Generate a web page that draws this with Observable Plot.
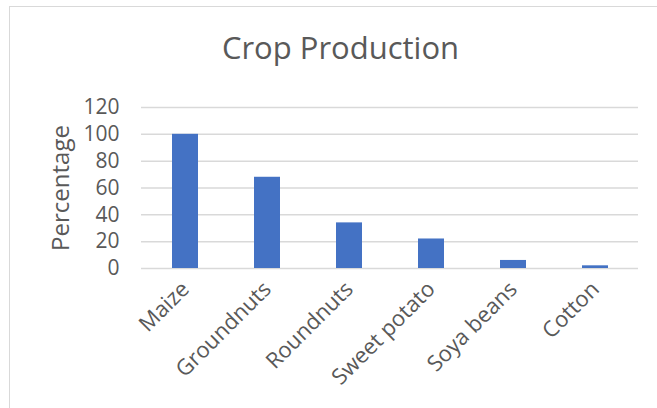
<!DOCTYPE html>
<html><head><meta charset="utf-8">
<script src="https://cdn.jsdelivr.net/npm/d3@7"></script>
<script src="https://cdn.jsdelivr.net/npm/@observablehq/plot@0.6"></script>
<style>
html,body{margin:0;padding:0;background:#fff;}
#wrap{position:relative;width:657px;height:408px;overflow:hidden;font-family:"Open Sans",sans-serif;}
#frame{position:absolute;left:9px;top:6px;width:660px;height:420px;border-top:1.5px solid #d9d9d9;border-left:1.5px solid #d9d9d9;}
#title{position:absolute;left:0;width:681px;top:26px;text-align:center;font-size:31px;color:#595959;}
#chart{position:absolute;left:0;top:0;}
</style></head>
<body><div id="wrap"><div id="frame"></div><div id="title">Crop Production</div><div id="chart"></div></div>
<script>
const crops = ["Maize","Groundnuts","Roundnuts","Sweet potato","Soya beans","Cotton"];
const percentages = [100, 68, 34, 22, 6, 2];
const yTicks = [0,20,40,60,80,100,120];
const data = crops.map((c,i)=>({crop:c, value:percentages[i]}));

const chart = Plot.plot({
  width: 657, height: 408,
  marginLeft: 141, marginRight: 19, marginTop: 107, marginBottom: 140,
  style: {fontFamily: "Open Sans, sans-serif", color: "#595959", background: "transparent"},
  x: {domain: crops, paddingInner: 0.685, paddingOuter: 0.3425, label: null},
  y: {domain: [0,120], ticks: yTicks, label: null},
  marks: [
    Plot.gridY(yTicks, {stroke: "#d9d9d9", strokeOpacity: 1, strokeWidth: 1.5}),
    Plot.barY(data, {x: "crop", y: "value", fill: "#4472C4"}),
    Plot.axisY({ticks: yTicks, tickSize: 0, tickPadding: 22, fontSize: 21, label: null}),
    Plot.axisY({ticks: [], tickSize: 0, fontSize: 24, label: "Percentage", labelAnchor: "center", labelOffset: 90, labelArrow: "none"}),
    Plot.axisX({tickSize: 0, tickPadding: 17, tickRotate: -45, fontSize: 22, label: null})
  ]
});
document.getElementById("chart").appendChild(chart);
</script></body></html>
